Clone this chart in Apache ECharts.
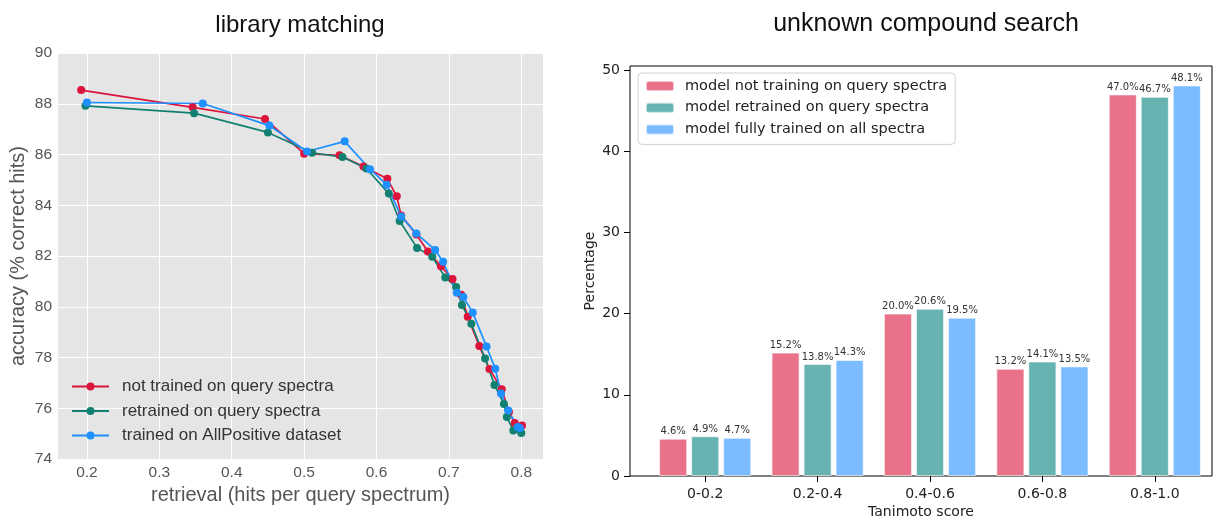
<!DOCTYPE html>
<html>
<head>
<meta charset="utf-8">
<script src="https://cdn.jsdelivr.net/npm/echarts@6/dist/echarts.min.js"></script>
<style>
  html, body { margin: 0; padding: 0; background: #fff; }
  #chart { width: 1215px; height: 519px; }
</style>
</head>
<body>
<div id="chart"></div>
<script>
// Library matching: [retrieval, accuracy] pairs for each model variant
const notTrainedOnQuery = [
  [0.192, 88.54], [0.346, 87.86], [0.446, 87.40], [0.500, 86.03], [0.549, 85.97],
  [0.582, 85.53], [0.615, 85.04], [0.628, 84.35], [0.634, 83.60], [0.655, 82.85],
  [0.671, 82.18], [0.689, 81.60], [0.705, 81.09], [0.717, 80.47], [0.726, 79.61],
  [0.742, 78.45], [0.756, 77.55], [0.773, 76.75], [0.783, 75.85], [0.791, 75.42],
  [0.801, 75.32]
];
const retrainedOnQuery = [
  [0.198, 87.92], [0.348, 87.63], [0.450, 86.87], [0.511, 86.07], [0.553, 85.90],
  [0.586, 85.45], [0.617, 84.46], [0.632, 83.38], [0.656, 82.32], [0.677, 81.97],
  [0.695, 81.15], [0.710, 80.78], [0.718, 80.07], [0.731, 79.33], [0.750, 77.96],
  [0.763, 76.92], [0.776, 76.17], [0.780, 75.66], [0.789, 75.12], [0.800, 75.02]
];
const trainedOnAllPositive = [
  [0.200, 88.05], [0.360, 88.01], [0.452, 87.14], [0.504, 86.12], [0.556, 86.52],
  [0.591, 85.42], [0.614, 84.81], [0.634, 83.56], [0.655, 82.89], [0.681, 82.24],
  [0.692, 81.77], [0.711, 80.55], [0.720, 80.38], [0.733, 79.77], [0.752, 78.43],
  [0.764, 77.56], [0.772, 76.58], [0.782, 75.91], [0.795, 75.26], [0.798, 75.22]
];
const retrievalTicks = [0.2, 0.3, 0.4, 0.5, 0.6, 0.7, 0.8];

// Unknown compound search: share of hits per Tanimoto score bin
const scoreBins = ['0-0.2', '0.2-0.4', '0.4-0.6', '0.6-0.8', '0.8-1.0'];
const pctNotTraining = [4.6, 15.2, 20.0, 13.2, 47.0];
const pctRetrained = [4.9, 13.8, 20.6, 14.1, 46.7];
const pctFullyTrained = [4.7, 14.3, 19.5, 13.5, 48.1];
const percentTicks = [0, 10, 20, 30, 40, 50];

const SANS = 'Liberation Sans, Arial, sans-serif';
const DEJAVU = 'DejaVu Sans, sans-serif';

const chart = echarts.init(document.getElementById('chart'), null, { renderer: 'canvas' });

function lineSeries(name, data, color) {
  return {
    name: name, type: 'line', xAxisIndex: 0, yAxisIndex: 0, data: data,
    symbol: 'circle', symbolSize: 8, color: color,
    lineStyle: { width: 1.7, color: color },
    itemStyle: { color: color },
    animation: false
  };
}

function barSeries(name, data, color) {
  return {
    name: name, type: 'bar', xAxisIndex: 2, yAxisIndex: 2, data: data,
    barWidth: '25%', barGap: '14%', color: color,
    itemStyle: { color: color, borderColor: 'rgba(255,255,255,0.6)', borderWidth: 1 },
    label: {
      show: true, position: 'top', distance: 2,
      formatter: p => p.value.toFixed(1) + '%',
      fontSize: 10, color: '#333', fontFamily: DEJAVU
    },
    animation: false
  };
}

const option = {
  animation: false,
  textStyle: { fontFamily: SANS },
  title: [
    { text: 'library matching', left: 295, top: 8, textAlign: 'center',
      textStyle: { fontSize: 24, fontWeight: 'normal', color: '#111', fontFamily: SANS } },
    { text: 'unknown compound search', left: 921, top: 7, textAlign: 'center',
      textStyle: { fontSize: 25, fontWeight: 'normal', color: '#111', fontFamily: SANS } }
  ],
  legend: [
    {
      data: ['not trained on query spectra', 'retrained on query spectra', 'trained on AllPositive dataset'],
      orient: 'vertical', left: 66, top: 373,
      itemWidth: 37, itemHeight: 10, itemGap: 7.5,
      textStyle: { fontSize: 17, color: '#333', fontFamily: SANS, lineHeight: 17, padding: [0, 0, 0, 8] }
    },
    {
      data: ['model not training on query spectra', 'model retrained on query spectra', 'model fully trained on all spectra'],
      orient: 'vertical', left: 638, top: 73,
      itemWidth: 28, itemHeight: 10, itemGap: 5.7,
      padding: [5, 8, 7, 7],
      borderColor: '#d0d0d0', borderWidth: 1, borderRadius: 4,
      backgroundColor: 'rgba(255,255,255,0.8)',
      textStyle: { fontSize: 14.5, color: '#222', fontFamily: DEJAVU, lineHeight: 16, padding: [0, 0, 0, 6] }
    }
  ],
  grid: [
    { left: 58, top: 53, width: 485, height: 406, show: true, backgroundColor: '#E5E5E5', borderWidth: 0, outerBoundsMode: 'none' },
    { left: 630, top: 66, width: 582, height: 410, show: true, backgroundColor: 'transparent', borderColor: '#000', borderWidth: 1, outerBoundsMode: 'none' },
    { left: 649, top: 66, width: 562, height: 410, outerBoundsMode: 'none' }
  ],
  xAxis: [
    {
      gridIndex: 0, type: 'value', min: 0.16, max: 0.83,
      axisLine: { show: false },
      axisTick: { show: false, customValues: retrievalTicks },
      axisLabel: { customValues: retrievalTicks, color: '#555', fontSize: 15.5, margin: 6, fontFamily: SANS },
      splitLine: { show: true, lineStyle: { color: '#fff', width: 1 } },
      name: 'retrieval (hits per query spectrum)', nameLocation: 'middle', nameGap: 23,
      nameTextStyle: { fontSize: 20, color: '#555', fontFamily: SANS }
    },
    {
      gridIndex: 1, type: 'value', min: 0, max: 1,
      axisLine: { show: false }, axisTick: { show: false }, axisLabel: { show: false }, splitLine: { show: false },
      name: 'Tanimoto score', nameLocation: 'middle', nameGap: 29,
      nameTextStyle: { fontSize: 14, color: '#222', fontFamily: DEJAVU }
    },
    {
      gridIndex: 2, type: 'category', data: scoreBins,
      axisLine: { show: false },
      axisTick: { show: true, alignWithLabel: true, length: 6, lineStyle: { color: '#000' } },
      axisLabel: { fontSize: 14, color: '#222', margin: 11, fontFamily: DEJAVU },
      splitLine: { show: false }
    }
  ],
  yAxis: [
    {
      gridIndex: 0, type: 'value', min: 74, max: 90, interval: 2,
      axisLine: { show: false }, axisTick: { show: false },
      axisLabel: { color: '#555', fontSize: 15.5, margin: 6, fontFamily: SANS },
      splitLine: { show: true, lineStyle: { color: '#fff', width: 1 } },
      name: 'accuracy (% correct hits)', nameLocation: 'middle', nameGap: 30,
      nameTextStyle: { fontSize: 20, color: '#555', fontFamily: SANS }
    },
    {
      gridIndex: 1, type: 'value', min: 0, max: 50.5,
      axisLine: { show: false },
      axisTick: { show: true, length: 6, lineStyle: { color: '#000' }, customValues: percentTicks },
      axisLabel: { customValues: percentTicks, fontSize: 14, color: '#222', margin: 10, fontFamily: DEJAVU },
      splitLine: { show: false },
      name: 'Percentage', nameLocation: 'middle', nameGap: 33,
      nameTextStyle: { fontSize: 14, color: '#222', fontFamily: DEJAVU }
    },
    {
      gridIndex: 2, type: 'value', min: 0, max: 50.5, show: false, splitLine: { show: false }
    }
  ],
  series: [
    lineSeries('not trained on query spectra', notTrainedOnQuery, '#DC143C'),
    lineSeries('retrained on query spectra', retrainedOnQuery, '#128070'),
    lineSeries('trained on AllPositive dataset', trainedOnAllPositive, '#1E90FF'),
    barSeries('model not training on query spectra', pctNotTraining, '#E9728A'),
    barSeries('model retrained on query spectra', pctRetrained, '#66B3B2'),
    barSeries('model fully trained on all spectra', pctFullyTrained, '#7BBBFF')
  ]
};

chart.setOption(option);
</script>
</body>
</html>
